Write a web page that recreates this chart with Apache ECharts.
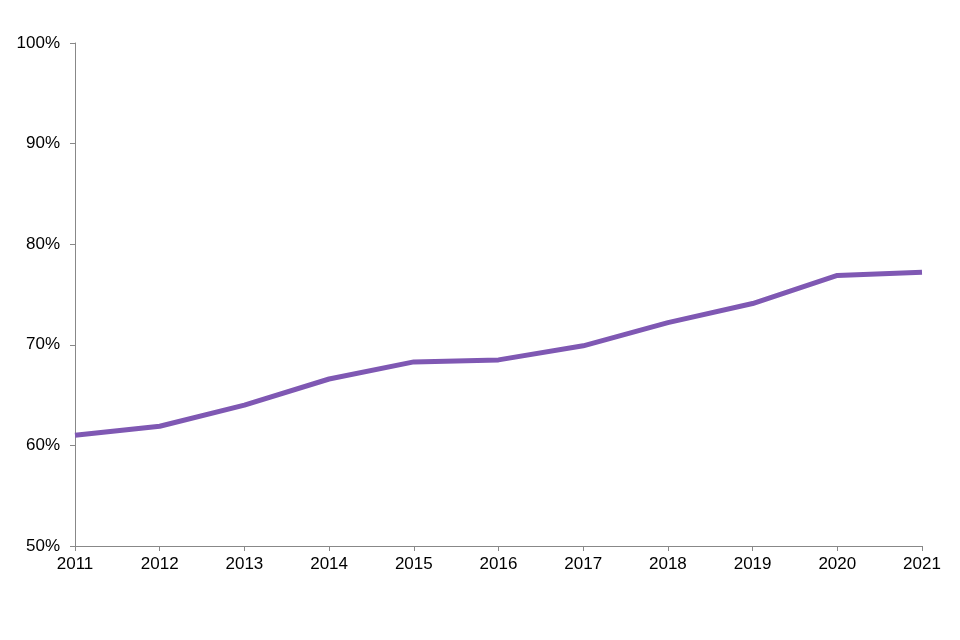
<!DOCTYPE html>
<html>
<head>
<meta charset="utf-8">
<script src="https://cdn.jsdelivr.net/npm/echarts@6/dist/echarts.min.js"></script>
<style>html,body{margin:0;padding:0;background:#fff}#c{width:960px;height:640px}</style>
</head>
<body>
<div id="c"></div>
<script>
const years = ['2011','2012','2013','2014','2015','2016','2017','2018','2019','2020','2021'];
const values = [61.0, 61.9, 64.0, 66.6, 68.3, 68.5, 69.9, 72.2, 74.1, 76.9, 77.2];

const chart = echarts.init(document.getElementById('c'));
chart.setOption({
  animation: false,
  grid: {left: 75, right: 38, top: 43, bottom: 94},
  xAxis: {
    type: 'category',
    data: years,
    boundaryGap: false,
    axisLine: {lineStyle: {color: '#888', width: 1}},
    axisTick: {show: true, length: 5, lineStyle: {color: '#888'}},
    axisLabel: {color: '#000', fontSize: 17, fontFamily: 'Liberation Sans, Arial', margin: 10}
  },
  yAxis: {
    type: 'value',
    min: 50, max: 100, interval: 10,
    axisLine: {show: true, lineStyle: {color: '#888', width: 1}},
    axisTick: {show: true, length: 5, lineStyle: {color: '#888'}},
    splitLine: {show: false},
    axisLabel: {color: '#000', fontSize: 17, fontFamily: 'Liberation Sans, Arial', margin: 15, formatter: '{value}%'}
  },
  series: [{
    type: 'line',
    data: values,
    symbol: 'none',
    lineStyle: {color: '#7F58B3', width: 5}
  }]
});
</script>
</body>
</html>
